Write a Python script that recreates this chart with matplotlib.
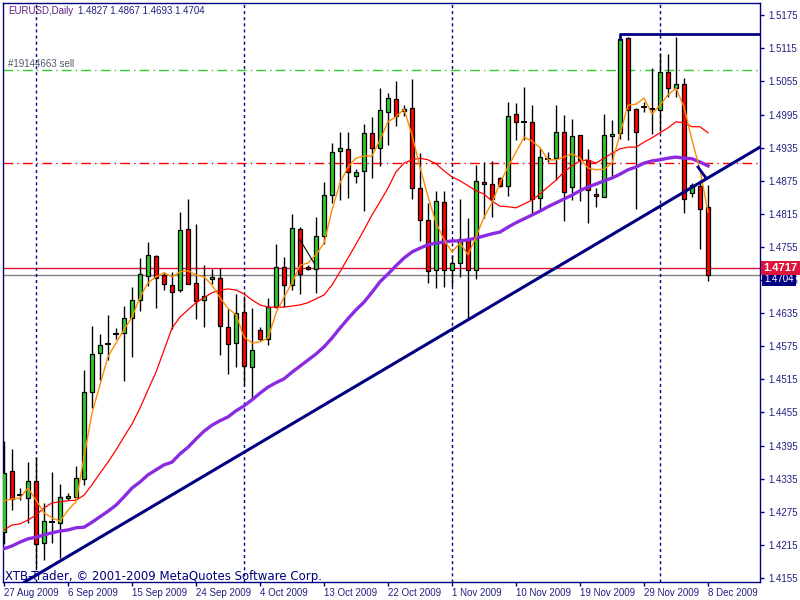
import matplotlib
matplotlib.use("Agg")
import matplotlib.pyplot as plt
from matplotlib.patches import Rectangle

# daily EURUSD bars, 27 Aug 2009 .. 8 Dec 2009 (one bar per trading day, Sun-Fri)
opens = [1.4238, 1.4349, 1.4305, 1.4300, 1.4331, 1.4218, 1.4256, 1.4255, 1.4300, 1.4302,
         1.4334, 1.4492, 1.4563, 1.4579, 1.4597, 1.4599, 1.4626, 1.4659, 1.4702, 1.4739,
         1.4704, 1.4686, 1.4677, 1.4788, 1.4690, 1.4659, 1.4697, 1.4699, 1.4610, 1.4581,
         1.4637, 1.4538, 1.4605, 1.4588, 1.4646, 1.4719, 1.4686, 1.4788, 1.4719, 1.4715,
         1.4775, 1.4849, 1.4929, 1.4933, 1.4884, 1.4893, 1.4962, 1.4935, 1.5000, 1.5023,
         1.5002, 1.5007, 1.4862, 1.4804, 1.4713, 1.4837, 1.4713, 1.4726, 1.4768, 1.4713,
         1.4873, 1.4869, 1.4880, 1.4866, 1.4996, 1.4982, 1.4982, 1.4844, 1.4915, 1.4916,
         1.4963, 1.4864, 1.4958, 1.4913, 1.4851, 1.4846, 1.4956, 1.4962, 1.5134, 1.5005,
         1.5009, 1.5005, 1.5003, 1.5072, 1.5043, 1.5050, 1.4853, 1.4866, 1.4827]
highs = [1.4403, 1.4389, 1.4318, 1.4365, 1.4374, 1.4291, 1.4347, 1.4325, 1.4309, 1.4358,
         1.4532, 1.4612, 1.4597, 1.4632, 1.4608, 1.4648, 1.4683, 1.4735, 1.4764, 1.4741,
         1.4710, 1.4710, 1.4818, 1.4842, 1.4797, 1.4722, 1.4715, 1.4717, 1.4643, 1.4670,
         1.4666, 1.4644, 1.4610, 1.4663, 1.4760, 1.4737, 1.4815, 1.4791, 1.4722, 1.4809,
         1.4873, 1.4944, 1.4963, 1.4963, 1.4896, 1.4978, 1.4991, 1.5043, 1.5034, 1.5056,
         1.5012, 1.5060, 1.4925, 1.4835, 1.4857, 1.4857, 1.4741, 1.4842, 1.4808, 1.4904,
         1.4909, 1.4911, 1.4882, 1.5018, 1.5016, 1.5045, 1.5012, 1.4935, 1.4927, 1.5012,
         1.4994, 1.4987, 1.4958, 1.4933, 1.4862, 1.4996, 1.4985, 1.5132, 1.5136, 1.5007,
         1.5018, 1.5080, 1.5107, 1.5105, 1.5136, 1.5061, 1.4871, 1.4876, 1.4867]
lows = [1.4217, 1.4278, 1.4296, 1.4255, 1.4173, 1.4188, 1.4218, 1.4191, 1.4296, 1.4296,
        1.4324, 1.4463, 1.4514, 1.4550, 1.4588, 1.4512, 1.4556, 1.4639, 1.4684, 1.4644,
        1.4677, 1.4606, 1.4673, 1.4688, 1.4625, 1.4610, 1.4688, 1.4559, 1.4525, 1.4538,
        1.4505, 1.4480, 1.4585, 1.4577, 1.4644, 1.4646, 1.4677, 1.4670, 1.4713, 1.4672,
        1.4760, 1.4835, 1.4840, 1.4844, 1.4871, 1.4820, 1.4880, 1.4902, 1.4940, 1.4974,
        1.4992, 1.4842, 1.4766, 1.4690, 1.4681, 1.4683, 1.4684, 1.4701, 1.4623, 1.4697,
        1.4808, 1.4809, 1.4864, 1.4847, 1.4949, 1.4949, 1.4817, 1.4820, 1.4909, 1.4876,
        1.4802, 1.4840, 1.4838, 1.4799, 1.4828, 1.4846, 1.4884, 1.4951, 1.4949, 1.4824,
        1.5000, 1.4960, 1.4965, 1.5027, 1.5027, 1.4817, 1.4846, 1.4751, 1.4693]
closes = [1.4345, 1.4298, 1.4305, 1.4331, 1.4217, 1.4258, 1.4256, 1.4302, 1.4304, 1.4336,
          1.4492, 1.4561, 1.4577, 1.4579, 1.4597, 1.4626, 1.4659, 1.4706, 1.4741, 1.4699,
          1.4688, 1.4673, 1.4786, 1.4688, 1.4657, 1.4666, 1.4701, 1.4612, 1.4579, 1.4635,
          1.4539, 1.4568, 1.4588, 1.4646, 1.4719, 1.4686, 1.4789, 1.4706, 1.4715, 1.4775,
          1.4849, 1.4927, 1.4935, 1.4891, 1.4891, 1.4962, 1.4935, 1.5003, 1.5025, 1.4992,
          1.5005, 1.4862, 1.4804, 1.4712, 1.4838, 1.4713, 1.4726, 1.4770, 1.4713, 1.4875,
          1.4869, 1.4842, 1.4866, 1.4992, 1.4982, 1.4982, 1.4842, 1.4918, 1.4915, 1.4963,
          1.4855, 1.4956, 1.4913, 1.4858, 1.4847, 1.4958, 1.4960, 1.5132, 1.5003, 1.4963,
          1.5009, 1.5005, 1.5072, 1.5043, 1.5050, 1.4842, 1.4867, 1.4824, 1.4704]

# moving averages
ma_fast = [1.4295, 1.4298, 1.4300, 1.4318, 1.4296, 1.4273, 1.4264, 1.4258, 1.4278, 1.4293,
           1.4374, 1.4454, 1.4505, 1.4556, 1.4581, 1.4605, 1.4628, 1.4664, 1.4690, 1.4701,
           1.4708, 1.4701, 1.4710, 1.4712, 1.4704, 1.4701, 1.4686, 1.4663, 1.4644, 1.4632,
           1.4592, 1.4581, 1.4583, 1.4590, 1.4635, 1.4664, 1.4690, 1.4722, 1.4726, 1.4741,
           1.4762, 1.4822, 1.4871, 1.4900, 1.4916, 1.4920, 1.4920, 1.4949, 1.4982, 1.4991,
           1.5005, 1.4958, 1.4900, 1.4846, 1.4799, 1.4768, 1.4746, 1.4762, 1.4741, 1.4773,
           1.4809, 1.4835, 1.4871, 1.4900, 1.4927, 1.4954, 1.4947, 1.4935, 1.4913, 1.4913,
           1.4918, 1.4924, 1.4916, 1.4898, 1.4895, 1.4896, 1.4907, 1.4960, 1.5012, 1.5014,
           1.5025, 1.4996, 1.5012, 1.5031, 1.5043, 1.5009, 1.4949, 1.4895, 1.4818]
ma_mid = [1.4242, 1.4251, 1.4253, 1.4260, 1.4269, 1.4282, 1.4291, 1.4293, 1.4295, 1.4296,
          1.4305, 1.4324, 1.4345, 1.4365, 1.4387, 1.4411, 1.4434, 1.4463, 1.4496, 1.4528,
          1.4568, 1.4608, 1.4628, 1.4641, 1.4654, 1.4663, 1.4672, 1.4677, 1.4679, 1.4677,
          1.4670, 1.4659, 1.4650, 1.4646, 1.4646, 1.4646, 1.4648, 1.4650, 1.4654, 1.4661,
          1.4668, 1.4686, 1.4710, 1.4735, 1.4760, 1.4786, 1.4813, 1.4837, 1.4862, 1.4891,
          1.4907, 1.4913, 1.4916, 1.4913, 1.4906, 1.4893, 1.4882, 1.4875, 1.4866, 1.4857,
          1.4851, 1.4838, 1.4829, 1.4828, 1.4826, 1.4833, 1.4840, 1.4851, 1.4864, 1.4876,
          1.4891, 1.4902, 1.4911, 1.4913, 1.4907, 1.4916, 1.4925, 1.4933, 1.4936, 1.4936,
          1.4945, 1.4953, 1.4962, 1.4971, 1.4982, 1.4980, 1.4973, 1.4973, 1.4962]
ma_slow = [1.4208, 1.4213, 1.4220, 1.4226, 1.4229, 1.4233, 1.4237, 1.4240, 1.4242, 1.4246,
           1.4247, 1.4256, 1.4266, 1.4276, 1.4287, 1.4302, 1.4318, 1.4329, 1.4342, 1.4351,
           1.4360, 1.4365, 1.4380, 1.4392, 1.4407, 1.4421, 1.4432, 1.4440, 1.4447, 1.4458,
           1.4467, 1.4478, 1.4490, 1.4501, 1.4509, 1.4516, 1.4528, 1.4539, 1.4550, 1.4561,
           1.4574, 1.4590, 1.4608, 1.4625, 1.4641, 1.4655, 1.4673, 1.4692, 1.4706, 1.4721,
           1.4735, 1.4746, 1.4753, 1.4759, 1.4762, 1.4764, 1.4766, 1.4766, 1.4768, 1.4771,
           1.4775, 1.4779, 1.4782, 1.4791, 1.4799, 1.4806, 1.4813, 1.4820, 1.4828, 1.4835,
           1.4842, 1.4849, 1.4857, 1.4864, 1.4869, 1.4875, 1.4880, 1.4887, 1.4895, 1.4900,
           1.4907, 1.4911, 1.4913, 1.4916, 1.4918, 1.4916, 1.4915, 1.4909, 1.4902]

date_labels = ['27 Aug 2009', '6 Sep 2009', '15 Sep 2009', '24 Sep 2009', '4 Oct 2009',
               '13 Oct 2009', '22 Oct 2009', '1 Nov 2009', '10 Nov 2009', '19 Nov 2009',
               '29 Nov 2009', '8 Dec 2009']
date_bars = [0, 8, 16, 24, 32, 40, 48, 56, 64, 72, 80, 88]
month_starts = [4, 30, 56, 82]
price_ticks = [1.5175, 1.5115, 1.5055, 1.4995, 1.4935, 1.4875, 1.4815, 1.4755, 1.4695,
               1.4635, 1.4575, 1.4515, 1.4455, 1.4395, 1.4335, 1.4275, 1.4215, 1.4155]

sell_price = 1.5076
stop_price = 1.4907
ask_price = 1.4717
bid_price = 1.4704
top_line = 1.5141
# trendline anchors (bar, price)
trend_a = (5.125, 1.41695)
trend_b = (58, 1.4623)

NAVY = '#000080'
UIFONT = ['Liberation Sans', 'DejaVu Sans']

fig = plt.figure(figsize=(8, 6), dpi=100)
ax = fig.add_axes([3 / 800, 18 / 600, 757 / 800, 579 / 600])
ax.set_xlim(-0.125, 94.5)
ax.set_ylim(1.41477, 1.51973)

# order / price levels
ax.axhline(sell_price, color='#32cd32', lw=1, ls=(0, (7, 3, 1, 3)), zorder=1)
ax.axhline(stop_price, color='#ff0000', lw=1, ls=(0, (7, 3, 1, 3)), zorder=1)
ax.axhline(ask_price, color='#e0103c', lw=1, zorder=1)
ax.axhline(bid_price, color='#808080', lw=1, zorder=1)
for b in month_starts:
    ax.axvline(b, color=NAVY, lw=1, ls=(0, (2.2, 2.2)), zorder=1)

# candles
for i in range(len(opens)):
    o, h, l, c = opens[i], highs[i], lows[i], closes[i]
    ax.vlines(i, l, h, color='black', lw=1, zorder=3)
    if abs(c - o) < 0.00015:
        ax.hlines(c, i - 0.35, i + 0.35, color='black', lw=1.4, zorder=4)
    else:
        col = '#32cd32' if c > o else '#ff0000'
        ax.add_patch(Rectangle((i - 0.3, min(o, c)), 0.6, abs(c - o), facecolor=col,
                               edgecolor='black', lw=0.9, zorder=4))

bars = list(range(len(opens)))
ax.plot(bars, ma_mid, color='#ff0000', lw=0.9, zorder=5)
ax.plot(bars, ma_slow, color='#8a2be2', lw=2.4, zorder=5)
ax.plot(bars, ma_fast, color='#ff8c00', lw=1, zorder=6)

# drawn objects
ax.axline(trend_a, trend_b, color=NAVY, lw=2.2, zorder=7)
ax.plot([77, 77, 95], [1.5132, top_line, top_line], color=NAVY, lw=2, zorder=7)
ax.plot([86.75, 87.75], [1.4900, 1.4880], color=NAVY, lw=2, zorder=7)
ax.plot([37, 38.75], [1.4768, 1.4726], color='black', lw=0.8, zorder=7)

# axes styling
for s in ax.spines.values():
    s.set_color(NAVY)
    s.set_linewidth(1)
ax.yaxis.tick_right()
ax.set_yticks(price_ticks)
ax.set_yticklabels(['%.4f' % p for p in price_ticks], family=UIFONT)
ax.set_xticks(date_bars)
ax.set_xticklabels(date_labels, ha='left', family=UIFONT)
ax.tick_params(axis='both', colors=NAVY, labelcolor='#202080', labelsize=7, length=3, width=1)
ax.tick_params(axis='x', pad=1)
ax.tick_params(axis='y', pad=3)

# right-side price boxes
ax.annotate('%.4f' % bid_price, xy=(1.0, bid_price), xycoords=('axes fraction', 'data'),
            xytext=(3, -3), textcoords='offset points', color='white', fontsize=7, va='center',
            family=UIFONT, bbox=dict(boxstyle='square,pad=0.2', fc=NAVY, ec='none'),
            annotation_clip=False, zorder=10)
ax.annotate('%.4f' % ask_price, xy=(1.0, ask_price), xycoords=('axes fraction', 'data'),
            xytext=(2.5, 0), textcoords='offset points', color='white', fontsize=8, va='center',
            family=UIFONT, fontweight='bold',
            bbox=dict(boxstyle='square,pad=0.2', fc='#dc143c', ec='none'),
            annotation_clip=False, zorder=11)

# texts
fig.text(8 / 800, 1 - 11 / 600, 'EURUSD,Daily', color='#602080', fontsize=7, va='center', family=UIFONT)
fig.text(78 / 800, 1 - 11 / 600, '1.4827 1.4867 1.4693 1.4704', color='#202080', fontsize=7,
         va='center', family=UIFONT)
fig.text(8 / 800, 1 - 64 / 600, '#19144663 sell', color='#505868', fontsize=7, va='center', family=UIFONT)
fig.text(5 / 800, 1 - 580 / 600, 'XTB-Trader, \u00a9 2001-2009 MetaQuotes Software Corp.',
         color=NAVY, fontsize=8.5, va='baseline')

fig.savefig('out.png', dpi=100)
